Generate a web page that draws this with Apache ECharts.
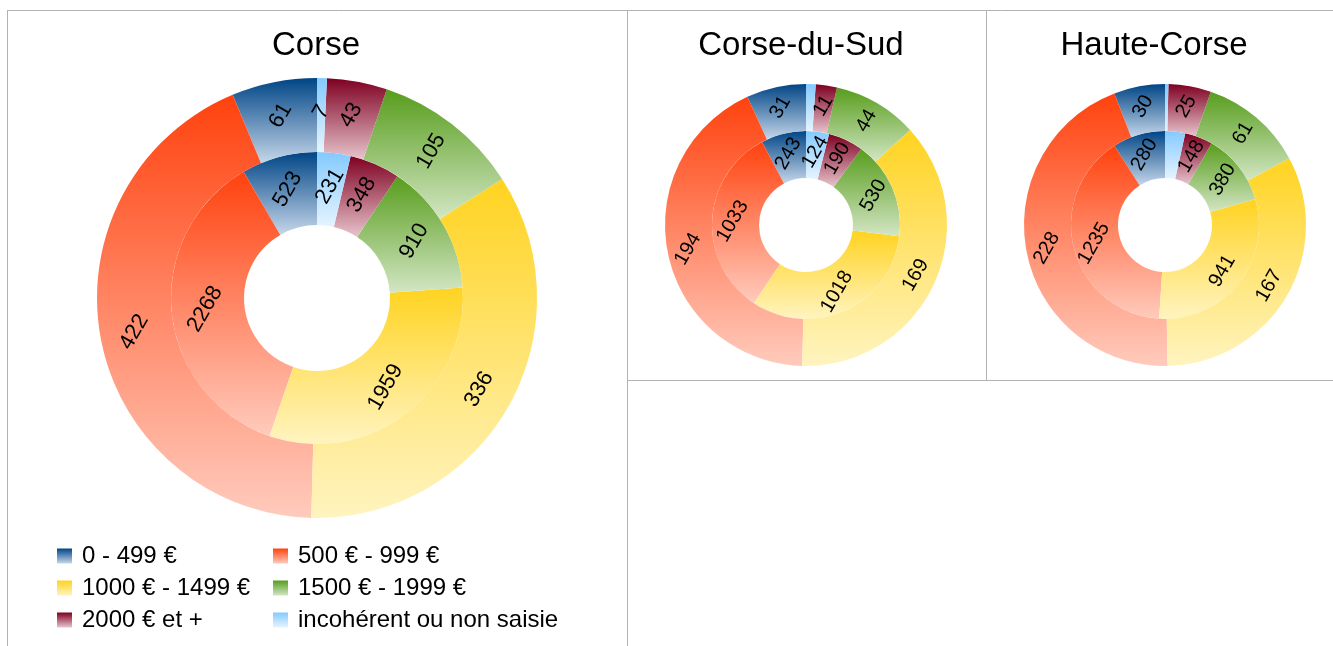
<!DOCTYPE html>
<html>
<head>
<meta charset="utf-8">
<script src="https://cdn.jsdelivr.net/npm/echarts@6/dist/echarts.min.js"></script>
<style>
html,body{margin:0;padding:0;background:#fff;}
#chart{width:1333px;height:646px;}
</style>
</head>
<body>
<div id="chart"></div>
<script>
// ---- data ----
const categories = ['0 - 499 €', '500 € - 999 €', '1000 € - 1499 €', '1500 € - 1999 €', '2000 € et +', 'incohérent ou non saisie'];
const corseInner = [523, 2268, 1959, 910, 348, 231];
const corseOuter = [61, 422, 336, 105, 43, 7];
const sudInner = [243, 1033, 1018, 530, 190, 124];
const sudOuter = [31, 194, 169, 44, 11, 5];
const hauteInner = [280, 1235, 941, 380, 148, 107];
const hauteOuter = [30, 228, 167, 61, 25, 2];
const titles = ['Corse', 'Corse-du-Sud', 'Haute-Corse'];

// ---- styles ----
const topColors = ['#004586', '#ff420e', '#ffd320', '#579d1c', '#7e0021', '#83caff'];
const bottomColors = ['#c6d7ea', '#ffcbbd', '#fff4c0', '#d3e6c4', '#e8c4cc', '#e6f4ff'];
const FONT = '"Liberation Sans", Arial, sans-serif';

function grad(i) {
  return {
    type: 'linear', x: 0, y: 0, x2: 0, y2: 1,
    colorStops: [{offset: 0, color: topColors[i]}, {offset: 1, color: bottomColors[i]}]
  };
}
function makeData(vals) {
  return vals.map((v, i) => ({name: categories[i], value: v, itemStyle: {color: grad(i)}}));
}
function ring(vals, center, radius, fs) {
  return {
    type: 'pie',
    center: center,
    radius: radius,
    startAngle: 90,
    clockwise: false,
    animation: false,
    silent: true,
    avoidLabelOverlap: false,
    minShowLabelAngle: 0,
    itemStyle: {borderWidth: 0},
    label: {show: true, position: 'inside', rotate: 60, color: '#000', fontSize: fs, fontFamily: FONT, formatter: '{c}'},
    labelLine: {show: false},
    emphasis: {disabled: true},
    data: makeData(vals)
  };
}

const chart = echarts.init(document.getElementById('chart'), null, {renderer: 'canvas'});
const lineStyle = {stroke: '#b3b3b3', lineWidth: 1};
const titleStyle = {fontFamily: FONT, fontSize: 33, fontWeight: 'normal', color: '#000'};
const legendText = {fontFamily: FONT, fontSize: 24, color: '#000', padding: [0, 0, 0, 5]};
const option = {
  backgroundColor: '#fff',
  animation: false,
  title: [
    {text: titles[0], left: 316, top: 29, textAlign: 'center', padding: 0, textStyle: titleStyle},
    {text: titles[1], left: 801, top: 29, textAlign: 'center', padding: 0, textStyle: titleStyle},
    {text: titles[2], left: 1154, top: 29, textAlign: 'center', padding: 0, textStyle: titleStyle}
  ],
  legend: [
    {
      data: [categories[0], categories[2], categories[4]],
      orient: 'vertical', left: 57, top: 544, padding: 0,
      itemWidth: 15, itemHeight: 15, itemGap: 8, icon: 'rect',
      selectedMode: false,
      textStyle: legendText
    },
    {
      data: [categories[1], categories[3], categories[5]],
      orient: 'vertical', left: 273, top: 544, padding: 0,
      itemWidth: 15, itemHeight: 15, itemGap: 8, icon: 'rect',
      selectedMode: false,
      textStyle: legendText
    }
  ],
  graphic: [
    {type: 'line', shape: {x1: 7, y1: 10.5, x2: 1333, y2: 10.5}, style: lineStyle, silent: true},
    {type: 'line', shape: {x1: 7.5, y1: 10, x2: 7.5, y2: 646}, style: lineStyle, silent: true},
    {type: 'line', shape: {x1: 627.5, y1: 10, x2: 627.5, y2: 646}, style: lineStyle, silent: true},
    {type: 'line', shape: {x1: 986.5, y1: 10, x2: 986.5, y2: 380}, style: lineStyle, silent: true},
    {type: 'line', shape: {x1: 627, y1: 380.5, x2: 1333, y2: 380.5}, style: lineStyle, silent: true}
  ],
  series: [
    ring(corseInner, [317, 298], [73, 146], 22),
    ring(corseOuter, [317, 298], [146, 220], 22),
    ring(sudInner, [806, 225], [47, 94], 20),
    ring(sudOuter, [806, 225], [94, 141], 20),
    ring(hauteInner, [1165, 225], [47, 94], 20),
    ring(hauteOuter, [1165, 225], [94, 141], 20)
  ]
};
chart.setOption(option);
</script>
</body>
</html>
